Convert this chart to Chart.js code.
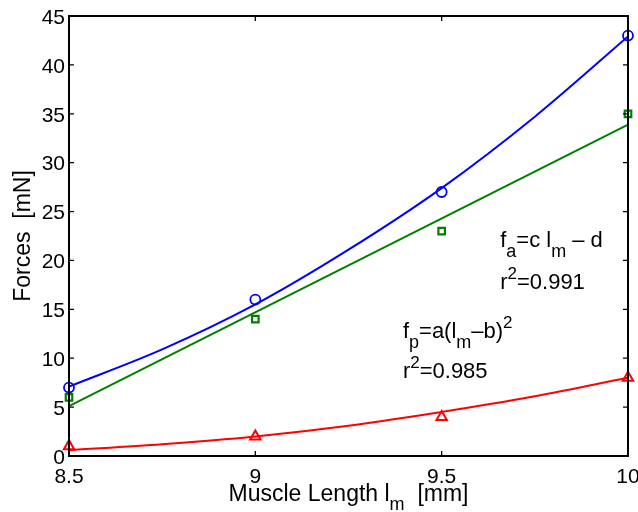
<!DOCTYPE html>
<html>
<head>
<meta charset="utf-8">
<script src="https://cdn.jsdelivr.net/npm/chart.js@4.4.0/dist/chart.umd.min.js"></script>
<style>
  html, body { margin: 0; padding: 0; background: #fff; }
</style>
</head>
<body>
<canvas id="forcesChart" width="638" height="512"></canvas>
<script>
// measured forces per muscle length
const lengths = [8.5, 9, 9.5, 10];
const totalForce = [7, 16, 27, 43];
const activeForce = [6, 14, 23, 35];
const passiveForce = [1, 2, 4, 8];

// fitted curves
const fitLengths = [8.5, 8.75, 9, 9.25, 9.5, 9.75, 10];
const totalFit = [7.1, 10.9, 15.5, 21.1, 27.4, 34.7, 42.9];
const passiveFit = [0.6, 1.2, 2.0, 3.1, 4.5, 6.1, 8.0];
const activeFitLengths = [8.5, 10];
const activeFit = [5.1, 33.9];

const xTicks = [8.5, 9, 9.5, 10];
const yTicks = [0, 5, 10, 15, 20, 25, 30, 35, 40, 45];

const FONT = '"Liberation Sans", Arial, Helvetica, sans-serif';
const BLUE = '#0000ff', GREEN = '#008000', RED = '#ff0000';

const pts = (xs, ys) => xs.map((x, i) => ({ x, y: ys[i] }));

const fitLine = (data, color, smooth) => ({
  data, borderColor: color, borderWidth: 2, pointRadius: 0, showLine: true,
  fill: false, cubicInterpolationMode: smooth ? 'monotone' : 'default', order: 2,
});
const markers = (data, color, style, radius, width) => ({
  data, showLine: false, pointStyle: style, pointRadius: radius,
  pointBorderColor: color, pointBackgroundColor: 'rgba(0,0,0,0)',
  pointBorderWidth: width, clip: false, order: 1,
});

// draws a run of text pieces, each with its own size and vertical shift
function richText(ctx, parts, x, y, align) {
  let width = 0;
  parts.forEach(p => { ctx.font = `${p.size}px ${FONT}`; width += ctx.measureText(p.t).width; });
  let cx = align === 'center' ? x - width / 2 : x;
  ctx.textAlign = 'left';
  ctx.textBaseline = 'alphabetic';
  parts.forEach(p => {
    ctx.font = `${p.size}px ${FONT}`;
    ctx.fillText(p.t, cx, y + (p.dy || 0));
    cx += ctx.measureText(p.t).width;
  });
}

const framePlugin = {
  id: 'frame',
  afterDraw(chart) {
    const { ctx, chartArea: a, scales: { x, y } } = chart;
    ctx.save();
    ctx.strokeStyle = '#000';
    ctx.lineWidth = 2;
    ctx.strokeRect(a.left, a.top, a.right - a.left, a.bottom - a.top);

    // inward ticks on all four sides
    ctx.lineWidth = 1.3;
    ctx.beginPath();
    x.ticks.forEach(t => {
      const px = x.getPixelForValue(t.value);
      ctx.moveTo(px, a.bottom); ctx.lineTo(px, a.bottom - 5);
      ctx.moveTo(px, a.top); ctx.lineTo(px, a.top + 5);
    });
    y.ticks.forEach(t => {
      const py = y.getPixelForValue(t.value);
      ctx.moveTo(a.left, py); ctx.lineTo(a.left + 5, py);
      ctx.moveTo(a.right, py); ctx.lineTo(a.right - 5, py);
    });
    ctx.stroke();

    ctx.fillStyle = '#000';
    // axis titles
    richText(ctx, [
      { t: 'Muscle Length l', size: 23 },
      { t: 'm', size: 18, dy: 9 },
      { t: '  [mm]', size: 23 },
    ], (a.left + a.right) / 2, 501, 'center');

    ctx.save();
    ctx.translate(30, (a.top + a.bottom) / 2);
    ctx.rotate(-Math.PI / 2);
    richText(ctx, [{ t: 'Forces  [mN]', size: 23 }], 0, 0, 'center');
    ctx.restore();

    // fit equations
    const lx = v => x.getPixelForValue(v);
    const ly = v => y.getPixelForValue(v);
    richText(ctx, [
      { t: 'f', size: 22 }, { t: 'a', size: 18, dy: 10 },
      { t: '=c l', size: 22 }, { t: 'm', size: 18, dy: 10 }, { t: ' \u2013 d', size: 22 },
    ], lx(9.657), ly(21.4), 'left');
    richText(ctx, [
      { t: 'r', size: 22 }, { t: '2', size: 17, dy: -10 }, { t: '=0.991', size: 22 },
    ], lx(9.657), ly(17.1), 'left');
    richText(ctx, [
      { t: 'f', size: 22 }, { t: 'p', size: 18, dy: 10 },
      { t: '=a(l', size: 22 }, { t: 'm', size: 18, dy: 10 }, { t: '\u2013b)', size: 22 },
      { t: '2', size: 17, dy: -10 },
    ], lx(9.396), ly(12.1), 'left');
    richText(ctx, [
      { t: 'r', size: 22 }, { t: '2', size: 17, dy: -10 }, { t: '=0.985', size: 22 },
    ], lx(9.396), ly(8.0), 'left');
    ctx.restore();
  },
};

new Chart(document.getElementById('forcesChart'), {
  type: 'scatter',
  data: {
    datasets: [
      fitLine(pts(fitLengths, totalFit), BLUE, true),
      fitLine(pts(activeFitLengths, activeFit), GREEN, false),
      fitLine(pts(fitLengths, passiveFit), RED, true),
      markers(pts(lengths, totalForce), BLUE, 'circle', 5, 1.8),
      markers(pts(lengths, activeForce), GREEN, 'rect', 4.6, 2.2),
      markers(pts(lengths, passiveForce), RED, 'triangle', 6, 2),
    ],
  },
  options: {
    responsive: false,
    animation: false,
    layout: { padding: { top: 16, right: 10, left: 0, bottom: 0 } },
    plugins: { legend: { display: false }, tooltip: { enabled: false } },
    scales: {
      x: {
        type: 'linear', min: 8.5, max: 10,
        grid: { display: false, drawTicks: false },
        border: { display: false },
        afterBuildTicks: s => { s.ticks = xTicks.map(v => ({ value: v })); },
        ticks: {
          color: '#000', padding: 9, font: { family: FONT, size: 21 }, maxRotation: 0, autoSkip: false,
          callback: v => String(v),
        },
        afterFit: s => { s.height = 56; s.paddingLeft = 0; s.paddingRight = 0; },
      },
      y: {
        type: 'linear', min: 0, max: 45,
        grid: { display: false, drawTicks: false },
        border: { display: false },
        afterBuildTicks: s => { s.ticks = yTicks.map(v => ({ value: v })); },
        ticks: { color: '#000', padding: 4, labelOffset: 2, font: { family: FONT, size: 21 }, callback: v => String(v) },
        afterFit: s => { s.width = 69; s.paddingTop = 0; s.paddingBottom = 0; },
      },
    },
  },
  plugins: [framePlugin],
});
</script>
</body>
</html>
